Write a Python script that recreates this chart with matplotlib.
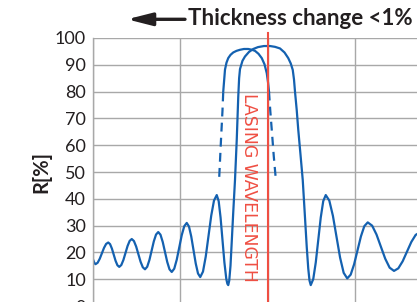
import matplotlib
matplotlib.use("Agg")
import matplotlib.pyplot as plt

# wavelength [nm] vs reflectance [%] (shifted stop band, solid)
wl_shifted = [500.0, 500.5, 501.0,
              501.85, 502.7, 503.55, 504.4, 505.25, 506.1,
              506.83, 507.57, 508.3, 509.03, 509.77, 510.5,
              511.33, 512.17, 513.0, 513.83, 514.67, 515.5,
              516.38, 517.27, 518.15, 519.03, 519.92, 520.8,
              521.68, 522.57, 523.45, 524.33, 525.22, 526.1,
              527.0, 527.9, 528.8, 529.7, 530.6, 531.5,
              532.5, 533.5, 534.5, 535.5, 536.5, 537.5,
              538.4, 539.3, 540.2, 541.1, 542.0, 542.9,
              544.0, 545.1, 546.2, 547.3, 548.4, 549.5,
              550.27, 551.03, 551.8, 552.57, 553.33, 553.75, 554.1,
              554.5, 555.0, 555.5, 556.1, 556.8, 557.5, 558.1, 558.45, 558.8,
              559.8, 560.8, 562.4, 564.1, 566.0, 568.4, 570.8, 572.8, 574.8,
              576.6, 578.1, 579.1, 579.9, 580.4, 580.8, 581.5, 582.1, 583.0,
              583.9, 584.8, 585.5, 586.1, 586.6, 587.1,
              588.1, 589.1, 590.1, 591.1, 592.1, 593.1,
              594.53, 595.97, 597.4, 598.83, 600.27, 601.7,
              603.07, 604.43, 605.8, 607.17, 608.53, 609.9,
              611.65, 613.4, 615.15, 616.9, 618.65, 620.4,
              622.13, 623.87, 625.6, 627.33, 629.07, 630.8]
r_shifted = [17.4, 16.2, 15.6,
             16.14, 17.63, 19.65, 21.68, 23.16, 23.7,
             23.09, 21.43, 19.15, 16.88, 15.21, 14.6,
             15.3, 17.2, 19.8, 22.4, 24.3, 25.0,
             24.24, 22.18, 19.35, 16.53, 14.46, 13.7,
             14.63, 17.18, 20.65, 24.13, 26.67, 27.6,
             26.6, 23.88, 20.15, 16.43, 13.7, 12.7,
             13.93, 17.28, 21.85, 26.43, 29.77, 31.0,
             29.65, 25.95, 20.9, 15.85, 12.15, 10.8,
             12.85, 18.45, 26.1, 33.75, 39.35, 41.4,
             39.15, 33.0, 24.6, 16.2, 10.05, 8.3, 7.8,
             9.5, 15.0, 24.0, 35.0, 47.0, 62.0, 78.0, 85.0, 88.4,
             91.5, 93.1, 94.8, 95.9, 96.6, 97.0, 97.0, 96.7, 96.1,
             94.6, 92.5, 90.5, 88.1, 84.5, 80.0, 73.0, 65.8, 56.5,
             47.0, 33.0, 22.0, 14.0, 9.5, 7.8,
             10.05, 16.2, 24.6, 33.0, 39.15, 41.4,
             39.32, 33.63, 25.85, 18.08, 12.38, 10.3,
             11.7, 15.53, 20.75, 25.98, 29.8, 31.2,
             29.99, 26.68, 22.15, 17.63, 14.31, 13.1,
             14.06, 16.7, 20.3, 23.9, 26.54, 27.5]

# original stop band: dashed flanks, solid top
wl_orig_left = [550.5, 551.2, 551.8, 552.1]
r_orig_left = [48.2, 62.0, 73.0, 80.0]
wl_orig_top = [552.1, 552.8, 553.4, 554.1, 555.0, 556.1, 557.4, 558.8, 560.4, 562.1,
               563.6, 564.8, 566.2, 567.5, 568.6, 569.5, 570.0, 570.4]
r_orig_top = [80.0, 88.2, 90.8, 92.5, 93.7, 94.6, 95.2, 95.6, 95.9, 95.9,
              95.6, 95.2, 94.1, 92.5, 90.2, 86.9, 83.5, 80.0]
wl_orig_right = [570.4, 570.9, 571.5, 572.3, 573.1]
r_orig_right = [80.0, 73.0, 65.8, 56.0, 47.6]

lasing_wl = 570
y_ticks = list(range(0, 101, 10))
x_grid = [500, 535, 570, 605]

blue = "#1461b0"
red = "#ef4f43"
grid_c = "#a8a8a8"
txt_c = "#231f20"

plt.rcParams["font.family"] = ["Lato", "DejaVu Sans"]

fig = plt.figure(figsize=(4.17, 3.02), dpi=100)
ax = fig.add_axes([0.223, -0.0133, 0.777, 0.8875])

ax.plot(wl_shifted, r_shifted, color=blue, lw=1.6, solid_joinstyle="round")
ax.plot(wl_orig_left, r_orig_left, color=blue, lw=1.6, linestyle=(0, (4.0, 2.8)))
ax.plot(wl_orig_top, r_orig_top, color=blue, lw=1.6, solid_joinstyle="round")
ax.plot(wl_orig_right, r_orig_right, color=blue, lw=1.6, linestyle=(0, (4.0, 2.8)))

ax.axvline(lasing_wl, ymin=0, ymax=1.019, color=red, lw=1.5, clip_on=False, zorder=3)
ax.text(562.4, 79.5, "LASING WAVELENGTH", rotation=-90, ha="center", va="top",
        color=red, fontsize=12.4, family="DejaVu Sans")

ax.set_xlim(500, 629.6)
ax.set_ylim(0, 100)
ax.set_yticks(y_ticks)
ax.set_xticks(x_grid)
ax.tick_params(axis="x", length=0, labelbottom=False)
ax.tick_params(axis="y", length=0, pad=5, labelsize=13, labelcolor=txt_c)
ax.grid(True, color=grid_c, lw=1.0)
ax.set_axisbelow(True)
for side in ["top", "right", "bottom"]:
    ax.spines[side].set_visible(False)
ax.spines["left"].set_color(grid_c)
ax.spines["left"].set_linewidth(1.0)

ax.set_ylabel("R[%]", fontsize=14.5, fontweight="bold", color=txt_c)
ax.yaxis.set_label_coords(-0.127, 0.5)

fig.text(0.451, 1 - 25 / 302, "Thickness change <1%", fontsize=16, fontweight="bold",
         color=txt_c, ha="left", va="baseline")
# arrow pointing left
ax.annotate("", xy=(127 / 417, 1 - 19.3 / 302), xytext=(185 / 417, 1 - 19.3 / 302),
            xycoords="figure fraction", textcoords="figure fraction",
            arrowprops=dict(arrowstyle="-|>,head_length=1.5,head_width=0.38",
                            color=txt_c, lw=2.4, shrinkA=0, shrinkB=0))

fig.savefig("out.png", dpi=100)
